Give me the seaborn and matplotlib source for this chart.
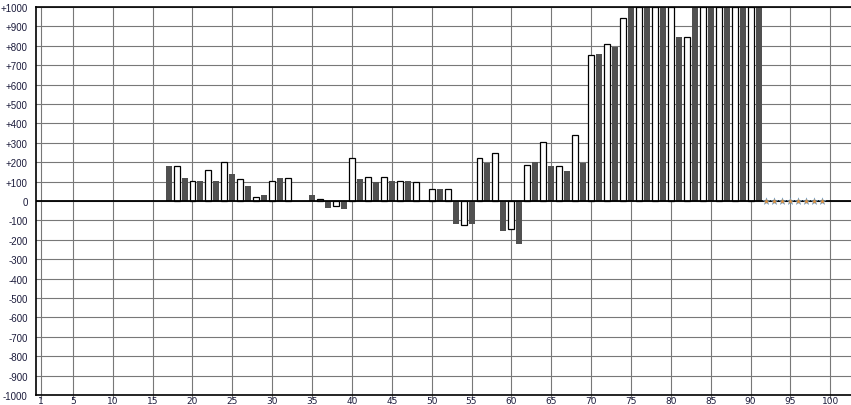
import numpy as np
import pandas as pd
import matplotlib
matplotlib.use('Agg')
import matplotlib.pyplot as plt
import seaborn as sns

# bar values, index = position on the x axis
positions = list(range(17, 92))
values = [182, 180, 120, 103, 103, 160, 103, 201, 141, 113,   # 17-26
          79, 21, 33, 103, 120, 118, np.nan, np.nan, 33, 10,   # 27-36
          -34, -26, -40, 222, 115, 125, 100, 125, 105, 103,    # 37-46
          105, 98, np.nan, 62, 64, 62, -120, -125, -120, 222,  # 47-56
          198, 247, -156, -146, -223, 186, 203, 304, 182, 180, # 57-66
          157, 341, 198, 755, 757, 807, 795, 941, 1000, 1000,  # 67-76
          1000, 1000, 1000, 1000, 843, 843, 1000, 1000, 1000, 1000,  # 77-86
          1000, 1000, 1000, 1000, 1000]                        # 87-91
marker_pos = [92, 93, 94, 95, 96, 97, 98, 99]
marker_vals = [0, 0, 0, 0, 0, 0, 0, 0]
x_ticks = [1, 5, 10, 15, 20, 25, 30, 35, 40, 45, 50, 55, 60, 65, 70, 75, 80, 85, 90, 95, 100]
y_ticks = list(range(-1000, 1001, 100))

dark = '#505050'
label_col = '#1c1c3c'

df = pd.DataFrame({'pos': positions, 'val': values})
df['kind'] = np.where(df['pos'] % 2 == 1, 'odd', 'even')

plt.rcParams['font.family'] = ['DejaVu Sans']
fig = plt.figure(figsize=(8.51, 4.06), dpi=100)
ax = fig.add_axes([36 / 851, 10 / 406, 815 / 851, 388 / 406])

ax.set_axisbelow(True)
ax.grid(True, color='#787878', lw=0.8)

sns.barplot(data=df, x='pos', y='val', hue='kind', native_scale=True, dodge=False,
            palette={'odd': dark, 'even': 'white'}, width=0.75, legend=False,
            saturation=1, ax=ax, zorder=2)
for p in ax.patches:
    fc = p.get_facecolor()
    if fc[0] > 0.9:
        p.set_edgecolor('black')
        p.set_linewidth(0.9)
    else:
        p.set_edgecolor(dark)
        p.set_linewidth(0)

ax.axhline(0, color='black', lw=1.3, zorder=3)

sns.scatterplot(x=marker_pos, y=marker_vals, marker='*', s=28, color='#e0903a',
                edgecolor='#5b9bd5', linewidth=0.3, ax=ax, zorder=4)

ax.set_xlim(0.37, 102.6)
ax.set_ylim(-1000, 1000)
ax.set_xticks(x_ticks)
ax.set_xticklabels([str(t) for t in x_ticks])
ax.set_yticks(y_ticks)
ax.set_yticklabels([('+%d' % t) if t > 0 else str(t) for t in y_ticks],
                   fontfamily='Liberation Sans')
ax.tick_params(axis='x', length=3, color='#787878', width=0.8, pad=-2.5,
               labelsize=6.5, labelcolor=label_col)
ax.tick_params(axis='y', length=0, pad=6, labelsize=7, labelcolor=label_col)
ax.set_xlabel('')
ax.set_ylabel('')

for side in ['left', 'bottom', 'top']:
    ax.spines[side].set_color('black')
    ax.spines[side].set_linewidth(1.2)
ax.spines['right'].set_visible(False)

fig.savefig('out.png', dpi=100)
